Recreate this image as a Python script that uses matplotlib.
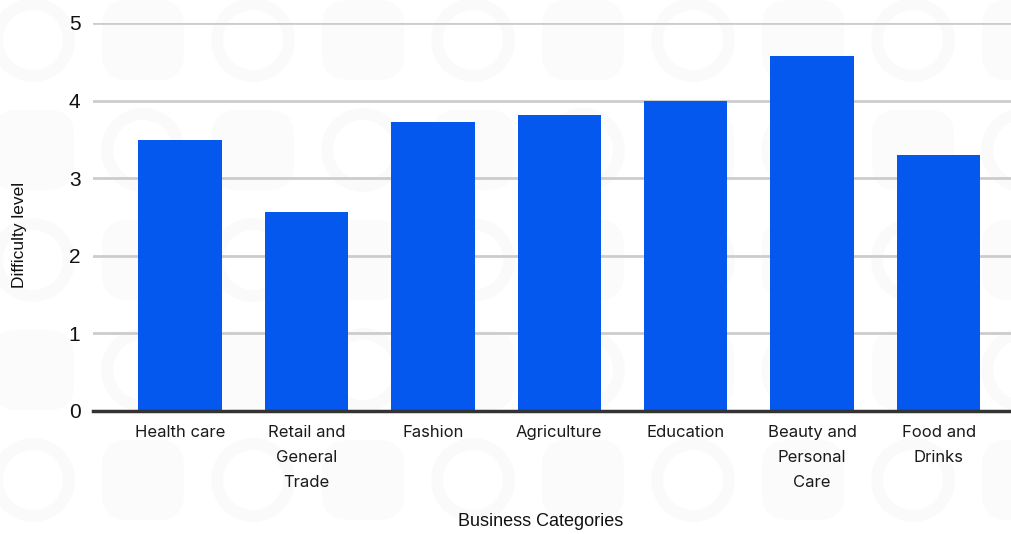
import matplotlib
matplotlib.use("Agg")
import matplotlib.pyplot as plt
from matplotlib.patches import Circle, FancyBboxPatch

# data
categories = ["Health care", "Retail and\nGeneral\nTrade", "Fashion", "Agriculture",
              "Education", "Beauty and\nPersonal\nCare", "Food and\nDrinks"]
difficulty = [3.49, 2.57, 3.73, 3.82, 3.99, 4.58, 3.30]
yticks = [0, 1, 2, 3, 4, 5]

W, H = 1012, 534
fig = plt.figure(figsize=(W / 100, H / 100), dpi=100)
fig.patch.set_facecolor("white")

# faint background watermark (rings and rounded squares), in pixel coords
bg = fig.add_axes([0, 0, 1, 1], zorder=0)
bg.set_xlim(0, W)
bg.set_ylim(H, 0)
bg.axis("off")
for r, yc in enumerate([40, 150, 260, 370, 480]):
    for c in range(-1, 11):
        xc = 33 + 110 * c
        if (r + c) % 2 == 0:
            bg.add_patch(Circle((xc, yc), 36, fill=False, lw=8.5, ec="#fafafa"))
        else:
            bg.add_patch(FancyBboxPatch((xc - 29, yc - 28), 58, 56,
                                        boxstyle="round,pad=12,rounding_size=26",
                                        fc="#fbfbfb", ec="none"))

ax = fig.add_axes([93 / W, 1 - 411 / H, 1 - 93 / W, (411 - 23) / H], zorder=1)
ax.patch.set_alpha(0)

x = list(range(len(categories)))
ax.bar(x, difficulty, width=0.66, color="#0558ee", zorder=3)

ax.set_xlim(-0.687, 6.58)
ax.set_ylim(0, 5)
ax.set_yticks(yticks)
ax.set_yticklabels([str(t) for t in yticks], fontsize=15, family="Liberation Sans", color="#111111")
ax.grid(axis="y", color="#cccccc", lw=2, zorder=0)
ax.set_axisbelow(True)
for s in ["top", "right", "left"]:
    ax.spines[s].set_visible(False)
ax.spines["bottom"].set_color("#333333")
ax.spines["bottom"].set_linewidth(2.5)
ax.spines["bottom"].set_zorder(4)
ax.tick_params(axis="y", length=0, pad=9)
ax.tick_params(axis="x", length=0, pad=10)
ax.set_xticks(x)
ax.set_xticklabels(categories, fontsize=12, family=["Inter", "DejaVu Sans"],
                   color="#1a1a1a", linespacing=1.85, va="top")

fig.text(541 / W, 1 - 522 / H, "Business Categories", ha="center", va="center",
         fontsize=13, family="Liberation Sans", color="#111111")
fig.text(20 / W, 1 - 235 / H, "Difficulty level", ha="center", va="center", rotation=90,
         fontsize=12.5, family="Liberation Sans", color="#111111")

fig.savefig("out.png", dpi=100)
